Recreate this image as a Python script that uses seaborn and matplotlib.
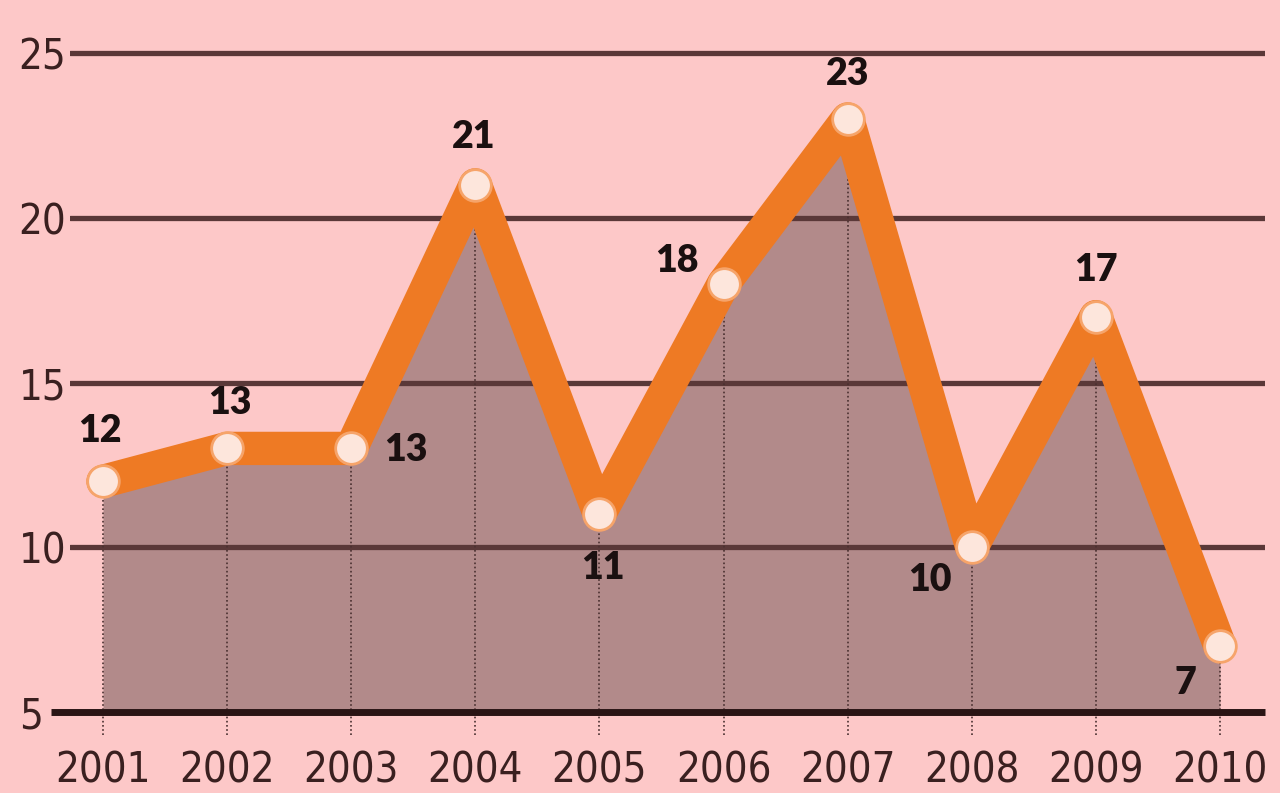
import numpy as np
import pandas as pd
import seaborn as sns
import matplotlib.pyplot as plt

years = [2001, 2002, 2003, 2004, 2005, 2006, 2007, 2008, 2009, 2010]
values = [12, 13, 13, 21, 11, 18, 23, 10, 17, 7]
# label offsets in pixels (dx, dy)
label_offsets = [(-3, 50), (3, 45), (55, -2), (-2, 48), (3, -54),
                 (-47, 23), (0, 45), (-42, -33), (0, 47), (-35, -37)]
yticks = [5, 10, 15, 20, 25]

bg = '#fdc8c8'
fill_col = '#b28a8a'
orange = '#ee7a24'
dark = '#3a2020'

sns.set_style('white', {'axes.facecolor': bg, 'figure.facecolor': bg})
plt.rcParams['font.family'] = ['DejaVu Sans']
plt.rcParams['font.stretch'] = 'condensed'

df = pd.DataFrame({'year': years, 'value': values})

fig = plt.figure(figsize=(12.8, 7.93), dpi=100)
ax = fig.add_axes([70 / 1280, 81 / 793, 1195 / 1280, 712 / 793])

ax.fill_between(df['year'], df['value'], 5, color=fill_col, lw=0, zorder=1)

# grid lines
for y in yticks[1:]:
    ax.axhline(y, color='#5a3838', lw=3.8, zorder=2)
ax.plot([2000.58, 2010.36], [5, 5], color='#2a1515', lw=5, zorder=3,
        clip_on=False, solid_capstyle='butt')

# dotted drop lines
ax.vlines(df['year'], 4.3, df['value'], colors='#4a3030', linestyles=(0, (1, 1.5)),
          lw=1.2, zorder=2.5, clip_on=False)

sns.lineplot(data=df, x='year', y='value', color=orange, lw=24, ax=ax,
             zorder=4, solid_joinstyle='round', solid_capstyle='round')
sns.scatterplot(data=df, x='year', y='value', s=520, color='#fde6dc',
                edgecolor='#f6a46a', linewidth=2, ax=ax, zorder=5)

for x, v, (dx, dy) in zip(years, values, label_offsets):
    ax.annotate(str(v), (x, v), xytext=(dx, dy), textcoords='offset pixels',
                ha='center', va='center', fontsize=27, fontweight='heavy',
                family=['Lato', 'DejaVu Sans'], fontstretch='normal',
                color='#1a1010', zorder=6)

ax.set_xlim(2000.734, 2010.363)
ax.set_ylim(5, 26.61)
ax.set_xticks(years)
ax.set_xticklabels([str(y) for y in years])
ax.set_yticks(yticks)
ax.tick_params(axis='both', length=0, labelsize=30, colors=dark)
ax.tick_params(axis='x', pad=27)
ax.tick_params(axis='y', pad=37)
for lbl in ax.get_yticklabels():
    lbl.set_horizontalalignment('left')
ax.set_xlabel('')
ax.set_ylabel('')
for s in ax.spines.values():
    s.set_visible(False)

fig.savefig('out.png', dpi=100, facecolor=bg)
